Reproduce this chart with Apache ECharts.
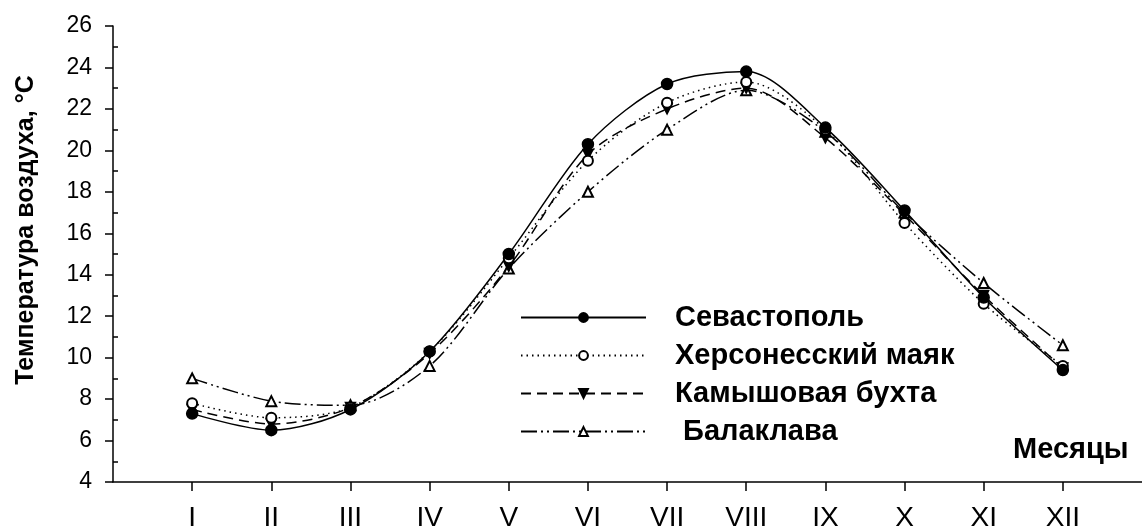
<!DOCTYPE html>
<html>
<head>
<meta charset="utf-8">
<script src="https://cdn.jsdelivr.net/npm/echarts@6/dist/echarts.min.js"></script>
<style>
  html, body { margin: 0; padding: 0; background: #fff; }
  #chart { width: 1142px; height: 532px; }
</style>
</head>
<body>
<div id="chart"></div>
<script>
// Monthly mean air temperature at four stations of the Sevastopol area
const months = ['I', 'II', 'III', 'IV', 'V', 'VI', 'VII', 'VIII', 'IX', 'X', 'XI', 'XII'];
const yTicks = [4, 6, 8, 10, 12, 14, 16, 18, 20, 22, 24, 26];

const sevastopol  = [7.3, 6.5, 7.5, 10.3, 15.0, 20.3, 23.2, 23.8, 21.1, 17.1, 12.9, 9.4];
const khersones   = [7.8, 7.1, 7.6, 10.3, 14.8, 19.5, 22.3, 23.3, 21.0, 16.5, 12.6, 9.6];
const kamyshovaya = [7.5, 6.8, 7.6, 10.2, 14.4, 19.8, 22.0, 23.0, 20.6, 16.9, 13.0, 9.5];
const balaklava   = [9.0, 7.9, 7.7,  9.6, 14.3, 18.0, 21.0, 22.9, 20.9, 17.0, 13.6, 10.6];

const FONT = '"Liberation Sans", Arial, sans-serif';
const monthPos = months.map((m, i) => i + 1);
const pairs = arr => arr.map((v, i) => [i + 1, v]);
const minorTicks = yTicks.slice(0, -1).map(v => v + 1);

function lineSeries(name, values, symbol, dash, extra) {
  return Object.assign({
    name: name,
    type: 'line',
    data: pairs(values),
    smooth: 0.3,
    symbol: symbol,
    symbolSize: 10,
    lineStyle: { color: '#000', width: 1.5, type: dash },
    itemStyle: { color: '#000', borderColor: '#000', borderWidth: 1.5 },
    emphasis: { disabled: true }
  }, extra || {});
}

const chart = echarts.init(document.getElementById('chart'));
chart.setOption({
  animation: false,
  backgroundColor: '#fff',
  grid: { left: 113, top: 26, bottom: 48, right: -13, containLabel: false },
  xAxis: {
    type: 'value',
    min: 0,
    max: 13,
    splitLine: { show: false },
    axisLine: { lineStyle: { color: '#000', width: 1.5 } },
    axisTick: { length: 9, lineStyle: { color: '#000', width: 1.5 }, customValues: monthPos },
    axisLabel: {
      customValues: monthPos,
      formatter: v => months[v - 1],
      color: '#000', fontFamily: FONT, fontSize: 28, margin: 22
    }
  },
  yAxis: [{
    type: 'value',
    min: 4,
    max: 26,
    interval: 2,
    splitLine: { show: false },
    axisLine: { show: true, lineStyle: { color: '#000', width: 1.5 } },
    axisTick: { length: 8, lineStyle: { color: '#000', width: 1.5 }, customValues: yTicks },
    axisLabel: { customValues: yTicks, color: '#000', fontFamily: FONT, fontSize: 23, margin: 21 }
  }, {
    // inner minor ticks at odd values
    type: 'value',
    position: 'left',
    min: 4,
    max: 26,
    splitLine: { show: false },
    axisLine: { show: false },
    axisTick: { inside: true, length: 5, lineStyle: { color: '#000', width: 1.5 }, customValues: minorTicks },
    axisLabel: { show: false }
  }],
  legend: {
    orient: 'vertical',
    left: 515,
    top: 298,
    itemWidth: 125,
    itemHeight: 11,
    itemGap: 9,
    selectedMode: false,
    textStyle: { color: '#000', fontFamily: FONT, fontSize: 29, fontWeight: 'bold', padding: [0, 0, 0, 24] },
    data: ['Севастополь', 'Херсонесский маяк', 'Камышовая бухта', ' Балаклава']
  },
  graphic: [{
    type: 'text',
    x: 26,
    y: 230,
    rotation: Math.PI / 2,
    style: {
      text: 'Температура воздуха, °C',
      font: 'bold 25px ' + FONT,
      fill: '#000',
      textAlign: 'center',
      textVerticalAlign: 'middle'
    }
  }, {
    type: 'text',
    x: 1013,
    y: 450,
    style: {
      text: 'Месяцы',
      font: 'bold 29px ' + FONT,
      fill: '#000',
      textAlign: 'left',
      textVerticalAlign: 'middle'
    }
  }],
  series: [
    lineSeries(' Балаклава', balaklava, 'emptyTriangle', [16, 4, 2, 4, 2, 4]),
    lineSeries('Камышовая бухта', kamyshovaya, 'triangle', [10, 6], { symbolRotate: 180 }),
    lineSeries('Херсонесский маяк', khersones, 'emptyCircle', [1.5, 4]),
    lineSeries('Севастополь', sevastopol, 'circle', 'solid', { symbolSize: 11 })
  ]
});
</script>
</body>
</html>
